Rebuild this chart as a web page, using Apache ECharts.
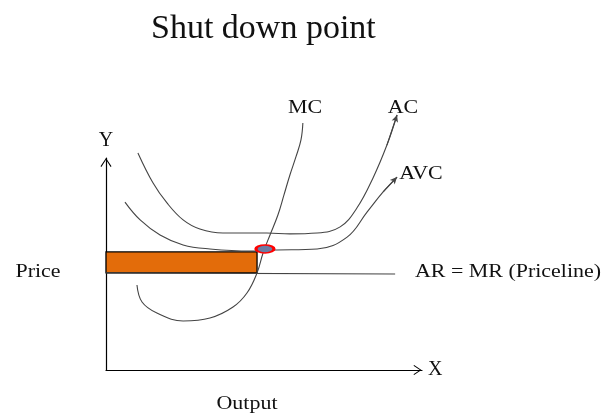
<!DOCTYPE html>
<html><head><meta charset="utf-8">
<script src="https://cdn.jsdelivr.net/npm/echarts@6/dist/echarts.min.js"></script>
<style>html,body{margin:0;padding:0;background:#fff}#c{width:606px;height:414px}</style>
</head><body><div id="c"></div>
<script>
// ---- data (quantity on x 0..100, price on y 0..100) ----
const titleText = 'Shut down point';
const acCurve  = [[10.1,102.4],[14.9,88.2],[19.3,78.8],[24.4,70.8],[29.7,66.5],[37.0,64.6],[50.9,64.6],[58.2,64.2],[66.8,64.6],[74.1,67.5],[79.4,76.4],[84.5,90.6],[88.9,106.1],[92.1,120.3]];
const avcCurve = [[6.0,79.2],[10.8,70.8],[17.1,63.7],[24.4,59.0],[32.9,57.1],[45.6,56.1],[52.8,56.6],[66.8,57.1],[76.3,62.7],[82.6,74.5],[87.7,84.0],[92.1,91.0]];
const mcCurve  = [[9.8,40.1],[11.4,32.1],[16.1,26.9],[24.4,23.1],[32.9,24.5],[40.2,29.7],[44.6,36.3],[47.8,45.8],[49.7,55.2],[51.9,63.7],[54.4,73.1],[56.3,82.5],[58.2,92.0],[60.1,100.5],[61.7,108.5],[62.3,116.5]];
const priceLine = [[0,45.8],[91.5,45.3]];
const lossRect = [[0,55.7],[47.8,45.8]];
const shutdownPoint = [50.3,57.1];
const curveNames = ['MC','AC','AVC'];
const axisNames = ['X','Y'];
const sideLabels = ['Price','AR = MR (Priceline)','Output'];

const chart = echarts.init(document.getElementById('c'), null, {renderer:'canvas'});
const serif = '"Liberation Serif", "Times New Roman", serif';
const curveColor = '#444';
const chevron = 'path://M50,0 L100,74 L92,80 L50,16 L8,80 L0,74 Z';
// plot area in pixels; the hidden second grid shares the same scale but reaches higher
const G = {left:106, right:184, bottom:44, top:158};
const yMaxVisible = 100, yMaxCurves = 130;
const pxPerUnit = (414 - G.top - G.bottom) / yMaxVisible;
const lbl = (text, x, y, size, sx) => ({
  type:'text', x, y, scaleX: sx, z: 100,
  style:{text, fontFamily: serif, fontSize: size, fill:'#111', align:'center', verticalAlign:'middle'}
});
const curve = (name, data, arrow) => ({
  type:'line', name, data, xAxisIndex:1, yAxisIndex:1, smooth:0.4, symbol:'none', clip:false, silent:true,
  lineStyle:{color:curveColor, width:1.1},
  markLine: arrow ? {
    silent:true, symbol:['none','arrow'], symbolSize:[5,7], label:{show:false},
    lineStyle:{color:curveColor, width:1.1, type:'solid'},
    data:[[{coord:data[data.length-2]},{coord:data[data.length-1]}]]
  } : undefined
});
const hiddenAxis = {show:false, type:'value', min:0};

chart.setOption({
  animation:false,
  backgroundColor:'#fff',
  title:{text:titleText, left:146, top:7, textStyle:{fontFamily:serif, fontSize:34, fontWeight:'normal', color:'#111'}},
  grid:[
    {left:G.left, top:G.top, right:G.right, bottom:G.bottom},
    {left:G.left, top:414 - G.bottom - yMaxCurves * pxPerUnit, right:G.right, bottom:G.bottom}
  ],
  xAxis:[
    {gridIndex:0, type:'value', min:0, max:100, name:axisNames[0], nameLocation:'end', nameGap:6,
      nameTextStyle:{fontFamily:serif, fontSize:20, color:'#111'},
      axisLine:{show:true, lineStyle:{color:'#000', width:1.2}, symbol:['none', chevron], symbolSize:[10,9], symbolOffset:[0,-4.5]},
      axisTick:{show:false}, axisLabel:{show:false}, splitLine:{show:false}},
    Object.assign({gridIndex:1, max:100}, hiddenAxis)
  ],
  yAxis:[
    {gridIndex:0, type:'value', min:0, max:yMaxVisible, name:axisNames[1], nameLocation:'end', nameGap:7,
      nameTextStyle:{fontFamily:serif, fontSize:20, color:'#111'},
      axisLine:{show:true, lineStyle:{color:'#000', width:1.2}, symbol:['none', chevron], symbolSize:[11,9], symbolOffset:[0,-4.5]},
      axisTick:{show:false}, axisLabel:{show:false}, splitLine:{show:false}},
    Object.assign({gridIndex:1, max:yMaxCurves}, hiddenAxis)
  ],
  graphic:[
    lbl(curveNames[0], 305, 108, 18, 1.22),
    lbl(curveNames[1], 403, 108, 18, 1.22),
    lbl(curveNames[2], 421, 174, 18, 1.22),
    lbl(sideLabels[0], 38, 272, 18, 1.22),
    lbl(sideLabels[1], 508, 272, 18, 1.22),
    lbl(sideLabels[2], 247, 404, 18, 1.22)
  ],
  series:[
    {type:'line', name:'AR = MR', data:priceLine, xAxisIndex:1, yAxisIndex:1, symbol:'none', silent:true,
      lineStyle:{color:curveColor, width:1.1},
      markArea:{silent:true, itemStyle:{color:'#e36c0a', borderColor:'#000', borderWidth:1.3},
        data:[[{coord:lossRect[0]},{coord:lossRect[1]}]]}},
    curve(curveNames[1], acCurve, true),
    curve(curveNames[2], avcCurve, true),
    curve(curveNames[0], mcCurve, false),
    {type:'scatter', name:'Shut down point', data:[shutdownPoint], xAxisIndex:1, yAxisIndex:1, symbol:'circle', symbolSize:[18,8], silent:true, z:10,
      itemStyle:{color:'#6c7ca3', borderColor:'#ff0000', borderWidth:2.2, opacity:1}}
  ]
});
</script></body></html>
